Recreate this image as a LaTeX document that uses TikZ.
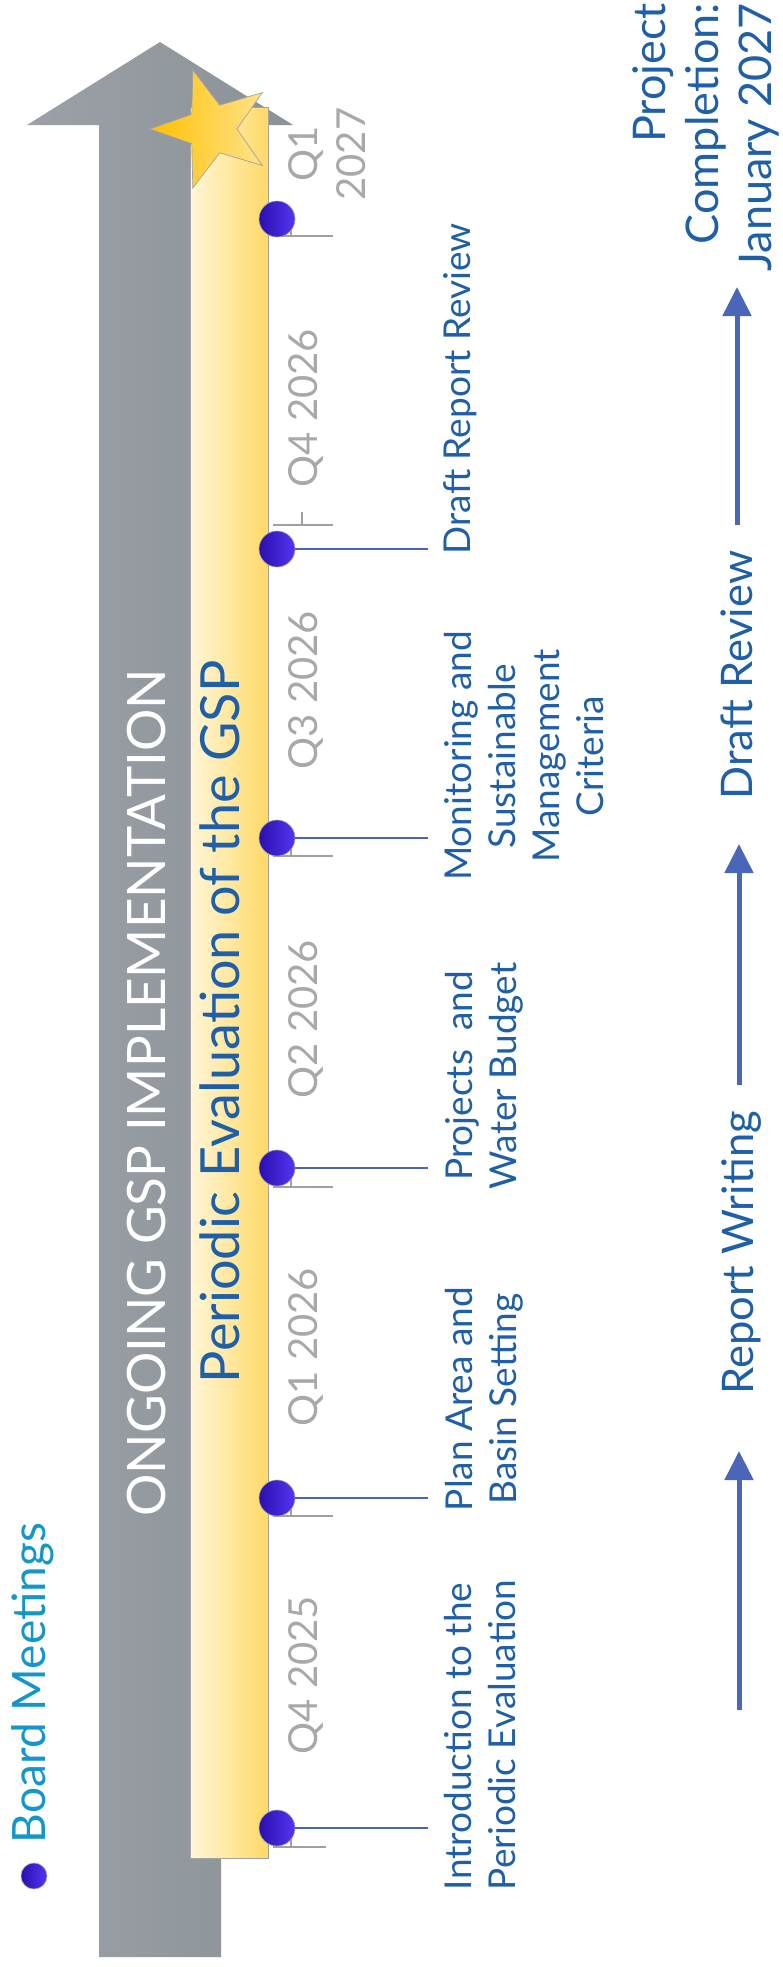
\documentclass[tikz,border=0pt]{standalone}
\usepackage{fontspec}
\setmainfont{Lato}
\usetikzlibrary{arrows.meta}
\definecolor{mileblue}{HTML}{1F5FA8}
\definecolor{boardblue}{HTML}{1596CB}
\definecolor{qgrey}{HTML}{A8A8A8}
\definecolor{arrowblue}{HTML}{4966B9}
\definecolor{connblue}{HTML}{4A62B8}
\definecolor{greyL}{HTML}{9BA1A7}
\definecolor{greyR}{HTML}{8A9197}
\definecolor{barL}{HTML}{FFF6D9}
\definecolor{barR}{HTML}{FFD966}
\definecolor{starL}{HTML}{FFC000}
\definecolor{starR}{HTML}{FFE28A}
\definecolor{dotL}{HTML}{2A0FAE}
\definecolor{dotR}{HTML}{5535F2}
\definecolor{tickgrey}{HTML}{A0A0A0}
\definecolor{edgegrey}{HTML}{A3A3A3}
\begin{document}
\begin{tikzpicture}[x=1pt,y=-1pt,
  rot/.style={rotate=90, inner sep=0pt, outer sep=0pt},
  mile/.style={rot, text=mileblue, font=\fontsize{37}{44}\selectfont},
  qlab/.style={rot, text=qgrey, font=\fontsize{40}{48}\selectfont, align=center},
  dot/.style={circle, minimum size=36pt, inner sep=0pt, left color=dotL, right color=dotR, draw=edgegrey, line width=0.6pt},
  conn/.style={draw=connblue, line width=2.8pt},
  tickln/.style={draw=tickgrey, line width=1.8pt},
  flow/.style={draw=arrowblue, line width=5pt, -{Triangle[width=28pt,length=29pt]}},
  flowtext/.style={rot, text=mileblue, font=\fontsize{43.5}{53}\selectfont}
]
\useasboundingbox (0,0) rectangle (783,1967);

% grey arrow
\path[left color=greyL, right color=greyR] (99,1957) -- (99,125) -- (27,125) -- (160,42) -- (293,125) -- (221,125) -- (221,1957) -- cycle;

% yellow bar
\path[left color=barL, right color=barR, draw=edgegrey, line width=0.7pt] (190,107) rectangle (268,1858);

% star
\path[left color=starL, right color=starR, draw=edgegrey, line width=0.7pt]
  (150,129) -- (191.8,114.3) -- (192.8,70.0) -- (219.7,105.2) -- (262.2,92.6) -- (237,129)
  -- (262.2,165.4) -- (219.7,152.8) -- (192.8,188.0) -- (191.8,143.7) -- cycle;

% big texts
\node[rot, anchor=north, text=white, font=\fontsize{53}{60}\selectfont] (ongoing) at (127,1093) {ONGOING GSP IMPLEMENTATION};
\node[rot, anchor=north west, text=mileblue, font=\fontsize{54}{60}\selectfont] (pe) at (200,1383) {Periodic Evaluation of the GSP};

% ticks
\draw[tickln] (273,1847) -- (326,1847);
\draw[tickln] (291,1847) -- (291,1838);
\draw[tickln] (273,1516) -- (333,1516);
\draw[tickln] (291,1516) -- (291,1503);
\draw[tickln] (273,1187) -- (333,1187);
\draw[tickln] (291,1187) -- (291,1177);
\draw[tickln] (273,856) -- (333,856);
\draw[tickln] (291,856) -- (291,845);
\draw[tickln] (273,525) -- (333,525);
\draw[tickln] (302,525) -- (302,512);
\draw[tickln] (273,236) -- (333,236);
\draw[tickln] (291,236) -- (291,224);

% connector ends
\coordinate (e1) at (428,1828);
\coordinate (e2) at (428,1498);
\coordinate (e3) at (428,1168);
\coordinate (e4) at (428,838);
\coordinate (e5) at (428,549);

% dots
\node[dot] (d1) at (277,1828) {};
\node[dot] (d2) at (277,1498) {};
\node[dot] (d3) at (277,1168) {};
\node[dot] (d4) at (277,838) {};
\node[dot] (d5) at (277,549) {};
\node[dot] (d6) at (277,219) {};

\draw[conn] (d1) -- (e1);
\draw[conn] (d2) -- (e2);
\draw[conn] (d3) -- (e3);
\draw[conn] (d4) -- (e4);
\draw[conn] (d5) -- (e5);

% milestone texts
\node[mile, anchor=north west, align=left] (m1) at (444,1890) {Introduction to the\\Periodic Evaluation};
\node[mile, anchor=north, align=center] (m2) at (445,1399) {Plan Area and\\Basin Setting};
\node[mile, anchor=north, align=center] (m3) at (445,1076) {Projects~ and\\Water Budget};
\node[mile, anchor=north, align=center] (m4) at (444,756) {Monitoring and\\Sustainable\\Management\\Criteria};
\node[mile, anchor=north west] (m5) at (444,554) {Draft Report Review};

% quarter labels
\node[qlab, anchor=north] (q1) at (289,1675) {Q4 2025};
\node[qlab, anchor=north] (q2) at (289,1347) {Q1 2026};
\node[qlab, anchor=north] (q3) at (289,1019) {Q2 2026};
\node[qlab, anchor=north] (q4) at (289,690) {Q3 2026};
\node[qlab, anchor=north] (q5) at (289,408) {Q4 2026};
\node[qlab, anchor=north] (q6) at (289,154) {Q1\\2027};

% legend
\node[dot, minimum size=26pt] (bdot) at (34,1876) {};
\node[rot, anchor=north west, text=boardblue, font=\fontsize{46}{52}\selectfont] (board) at (12,1843) {Board Meetings};

% right flow
\coordinate (a1s) at (739,1710);
\coordinate (a1t) at (739,1451);
\coordinate (a2s) at (739,1085);
\coordinate (a2t) at (739,844);
\coordinate (a3s) at (737,525);
\coordinate (a3t) at (737,287);
\draw[flow] (a1s) -- (a1t);
\draw[flow] (a2s) -- (a2t);
\draw[flow] (a3s) -- (a3t);
\node[flowtext, anchor=north] (rw) at (722,1253) {Report Writing};
\node[flowtext, anchor=north] (dr) at (721,675) {Draft Review};
\node[flowtext, anchor=north east, align=right, font=\fontsize{45}{53}\selectfont] (pc) at (633,3) {Project\\Completion:\\January 2027};
\end{tikzpicture}
\end{document}
